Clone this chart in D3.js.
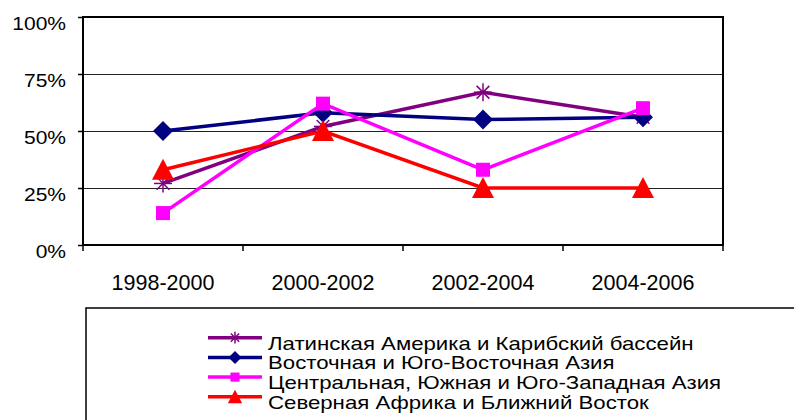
<!DOCTYPE html>
<html>
<head>
<meta charset="utf-8">
<script src="https://cdn.jsdelivr.net/npm/d3@7"></script>
<style>
body { margin: 0; background: #fff; }
text { font-family: "Liberation Sans", Arial, sans-serif; fill: #000; }
</style>
</head>
<body>
<svg id="chart" width="794" height="420"></svg>
<script>
// data
var periods = ["1998-2000", "2000-2002", "2002-2004", "2004-2006"];
var yTicks = [0, 0.25, 0.5, 0.75, 1];
var latin = [0.27, 0.52, 0.67, 0.56];
var eastAsia = [0.50, 0.58, 0.55, 0.56];
var centralAsia = [0.14, 0.62, 0.33, 0.60];
var northAfrica = [0.33, 0.50, 0.25, 0.25];

var seriesNames = [
    "Латинская Америка и Карибский бассейн",
    "Восточная и Юго-Восточная Азия",
    "Центральная, Южная и Юго-Западная Азия",
    "Северная Африка и Ближний Восток"
];
var seriesColors = ["#800080", "#000080", "#ff00ff", "#ff0000"];
var seriesMarks = ["asterisk", "diamond", "square", "triangle"];
var seriesValues = [latin, eastAsia, centralAsia, northAfrica];

var svg = d3.select("#chart");
var plotLeft = 83, plotRight = 723, plotTop = 17, plotBottom = 245;

var x = d3.scaleBand().domain(periods).range([plotLeft, plotRight]);
var y = d3.scaleLinear().domain([0, 1]).range([plotBottom, plotTop]);

// stretch text horizontally, the source font is wider than it is tall
function widen(sel, k) {
    sel.each(function() {
        var w = this.getComputedTextLength();
        d3.select(this).attr("textLength", w * k).attr("lengthAdjust", "spacingAndGlyphs");
    });
}

// gridlines
svg.append("g")
    .selectAll("line")
    .data(yTicks.slice(1, 4))
    .join("line")
    .attr("x1", plotLeft).attr("x2", plotRight)
    .attr("y1", d => Math.round(y(d)) + 0.5).attr("y2", d => Math.round(y(d)) + 0.5)
    .attr("stroke", "#222").attr("stroke-width", 1);

// frame
svg.append("rect")
    .attr("x", plotLeft).attr("y", plotTop)
    .attr("width", plotRight - plotLeft).attr("height", plotBottom - plotTop)
    .attr("fill", "none").attr("stroke", "#000").attr("stroke-width", 2);

// y axis
var yAxis = svg.append("g")
    .attr("transform", "translate(" + plotLeft + ",0)")
    .call(d3.axisLeft(y).tickValues(yTicks).tickFormat(d3.format(".0%")).tickSize(5).tickPadding(12));
yAxis.select(".domain").remove();
yAxis.selectAll(".tick line").attr("stroke", "#000").attr("stroke-width", 1.5);
yAxis.selectAll("text").attr("font-size", 18.6).attr("fill", "#000")
    .attr("dy", "0.65em")
    .style("font-family", "'Liberation Sans', Arial, sans-serif")
    .call(widen, 1.13);

// x axis ticks at band edges
svg.append("g")
    .selectAll("line")
    .data(d3.range(periods.length + 1))
    .join("line")
    .attr("x1", i => plotLeft + i * x.step()).attr("x2", i => plotLeft + i * x.step())
    .attr("y1", plotBottom).attr("y2", plotBottom + 6)
    .attr("stroke", "#000").attr("stroke-width", 1.5);

svg.append("g")
    .selectAll("text")
    .data(periods)
    .join("text")
    .attr("x", d => x(d) + x.bandwidth() / 2)
    .attr("y", 290)
    .attr("text-anchor", "middle")
    .attr("font-size", 21.5)
    .text(d => d);

function drawMark(g, type, color, k) {
    if (type === "asterisk") {
        var r = 9 * k;
        [0, 45, 90, 135].forEach(function(a) {
            var rad = a * Math.PI / 180;
            g.append("line")
                .attr("x1", -r * Math.cos(rad)).attr("y1", -r * Math.sin(rad))
                .attr("x2", r * Math.cos(rad)).attr("y2", r * Math.sin(rad))
                .attr("stroke", color).attr("stroke-width", 1.5);
        });
    } else if (type === "diamond") {
        g.append("path").attr("d", d3.line()([[0, -10 * k], [10 * k, 0], [0, 10 * k], [-10 * k, 0]]) + "Z").attr("fill", color);
    } else if (type === "square") {
        g.append("rect").attr("x", -7 * k).attr("y", -7 * k).attr("width", 14 * k).attr("height", 14 * k).attr("fill", color);
    } else if (type === "triangle") {
        g.append("path").attr("d", d3.line()([[0, -11 * k], [11 * k, 10 * k], [-11 * k, 10 * k]]) + "Z").attr("fill", color);
    }
}

var line = d3.line()
    .x((d, i) => x(periods[i]) + x.bandwidth() / 2)
    .y(d => y(d));

seriesValues.forEach(function(vals, s) {
    svg.append("path")
        .datum(vals)
        .attr("d", line)
        .attr("fill", "none")
        .attr("stroke", seriesColors[s])
        .attr("stroke-width", 3.5);
    vals.forEach(function(v, i) {
        var g = svg.append("g")
            .attr("transform", "translate(" + (x(periods[i]) + x.bandwidth() / 2) + "," + y(v) + ")");
        drawMark(g, seriesMarks[s], seriesColors[s], 1);
    });
});

// legend
svg.append("rect")
    .attr("x", 86).attr("y", 308)
    .attr("width", 720).attr("height", 130)
    .attr("fill", "#fff").attr("stroke", "#000").attr("stroke-width", 1.5);

seriesNames.forEach(function(name, s) {
    var ly = 337.7 + s * 19.7;
    svg.append("line")
        .attr("x1", 208).attr("x2", 262)
        .attr("y1", ly).attr("y2", ly)
        .attr("stroke", seriesColors[s]).attr("stroke-width", 3.5);
    drawMark(svg.append("g").attr("transform", "translate(235," + ly + ")"), seriesMarks[s], seriesColors[s], 0.65);
    svg.append("text")
        .attr("x", 268).attr("y", ly + 12)
        .attr("font-size", 18.5)
        .text(name)
        .call(widen, 1.2);
});
</script>
</body>
</html>
